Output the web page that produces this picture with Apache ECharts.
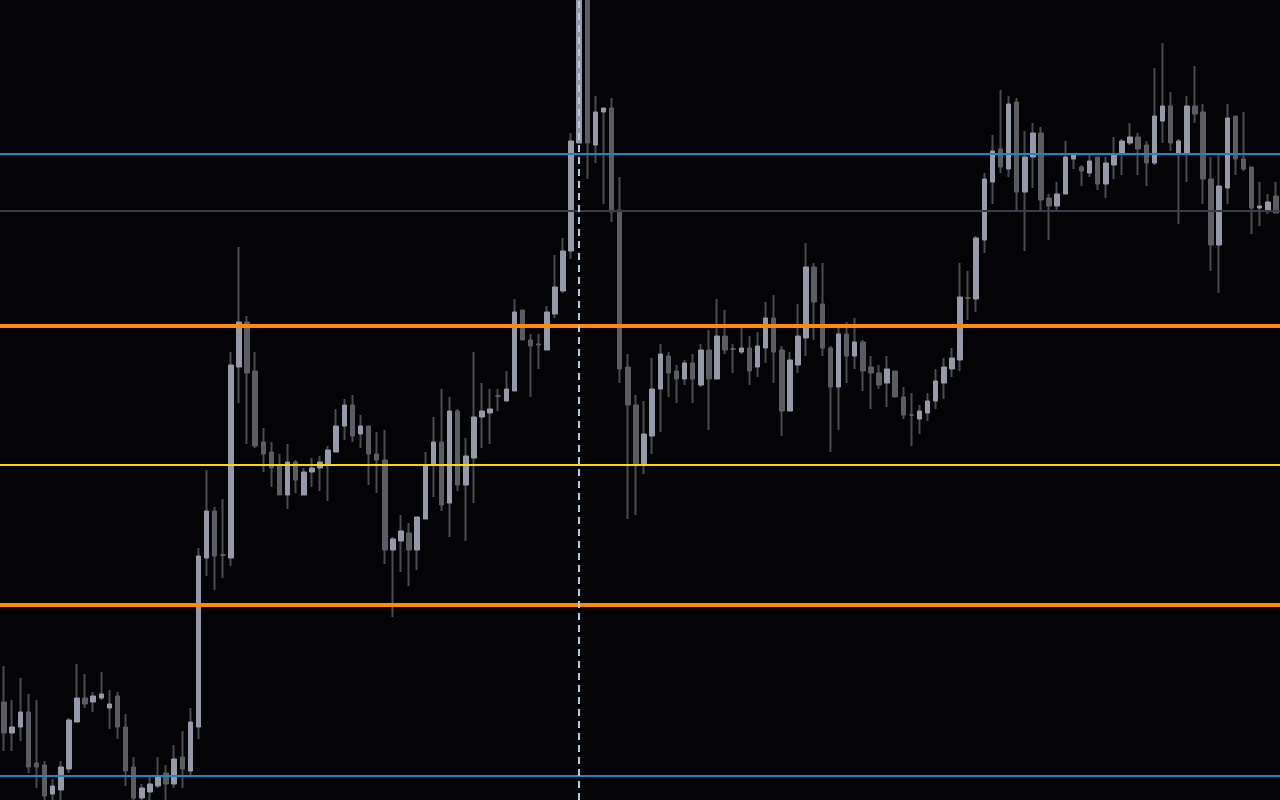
<!DOCTYPE html>
<html>
<head>
<meta charset="utf-8">
<script src="https://cdn.jsdelivr.net/npm/echarts@6/dist/echarts.min.js"></script>
<style>
html,body{margin:0;padding:0;background:#040406;}
#chart{width:1280px;height:800px;}
</style>
</head>
<body>
<div id="chart"></div>
<script>
// ---- data ----
const opens = [2298,2267,2273,2288,2237,2235,2206,2210,2231,2278, 2302,2298,2302,2292,2304,2273,2233,2202,2208,2214, 2227,2216,2243,2229,2273,2442,2489,2445,2442,2633, 2678,2629,2558,2548,2534,2505,2538,2505,2528,2532, 2536,2548,2574,2595,2566,2574,2546,2540,2450,2459, 2467,2450,2481,2535,2558,2497,2589,2515,2542,2583, 2587,2604,2599,2609,2690,2660,2656,2650,2686,2709, 2749,2857,3004,2855,2888,2892,2790,2633,2595,2536, 2564,2611,2644,2629,2621,2637,2615,2650,2621,2664, 2651,2648,2652,2633,2652,2682,2650,2589,2635,2662, 2733,2696,2652,2613,2666,2644,2658,2633,2627,2617, 2629,2603,2585,2581,2587,2599,2617,2631,2640,2702, 2701,2760,2818,2851,2831,2898,2808,2843,2867,2802, 2794,2806,2841,2833,2827,2843,2816,2835,2847,2857, 2863,2855,2837,2879,2894,2847,2847,2894,2888,2821, 2755,2812,2884,2841,2833,2792,2790,2804];
const closes = [2267,2273,2288,2233,2233,2204,2214,2233,2280,2302, 2296,2304,2306,2296,2273,2229,2202,2212,2216,2223, 2216,2241,2231,2278,2444,2489,2444,2445,2635,2678, 2627,2554,2546,2532,2505,2538,2520,2528,2532,2538, 2550,2574,2595,2564,2574,2546,2540,2450,2461,2469, 2450,2483,2535,2558,2495,2589,2515,2544,2583,2589, 2591,2604,2611,2688,2660,2654,2655,2688,2713,2749, 2859,3004,2857,2888,2892,2788,2631,2595,2535,2566, 2611,2646,2627,2621,2637,2621,2650,2621,2664,2650, 2651,2652,2629,2654,2682,2648,2589,2640,2664,2733, 2698,2652,2613,2666,2644,2658,2629,2627,2615,2631, 2603,2585,2585,2589,2599,2619,2633,2642,2703,2702, 2762,2821,2849,2833,2896,2808,2843,2867,2800,2794, 2806,2843,2845,2829,2839,2816,2837,2845,2859,2863, 2851,2837,2884,2894,2857,2859,2894,2886,2821,2755, 2814,2882,2841,2831,2792,2794,2798,2787];
const lows = [2249,2249,2259,2227,2212,2196,2196,2196,2227,2278, 2292,2288,2300,2271,2261,2214,2196,2196,2196,2212, 2196,2212,2212,2224,2261,2424,2410,2422,2434,2597, 2556,2552,2528,2513,2505,2491,2507,2505,2513,2509, 2499,2548,2560,2558,2552,2515,2507,2436,2383,2428, 2414,2430,2481,2503,2489,2463,2509,2459,2497,2552, 2556,2589,2599,2609,2660,2603,2631,2650,2682,2707, 2741,2857,2821,2837,2796,2778,2617,2481,2485,2526, 2546,2568,2603,2597,2615,2597,2613,2570,2621,2646, 2627,2646,2615,2623,2637,2617,2564,2589,2627,2644, 2660,2644,2548,2570,2617,2631,2609,2591,2611,2593, 2603,2581,2554,2566,2579,2591,2601,2623,2629,2680, 2688,2747,2796,2827,2823,2789,2749,2812,2789,2760, 2790,2806,2831,2814,2823,2810,2802,2821,2825,2855, 2825,2814,2835,2857,2849,2776,2818,2877,2796,2729, 2707,2796,2825,2829,2766,2774,2786,2787];
const highs = [2334,2300,2322,2306,2300,2239,2221,2239,2282,2336, 2326,2308,2328,2310,2308,2286,2243,2216,2223,2243, 2235,2255,2269,2292,2452,2530,2493,2501,2648,2753, 2684,2648,2572,2558,2546,2556,2540,2532,2542,2544, 2554,2591,2601,2605,2585,2574,2568,2570,2463,2485, 2477,2483,2548,2583,2611,2603,2591,2562,2648,2617, 2611,2611,2629,2701,2690,2666,2666,2694,2745,2762, 2867,3020,3020,2904,2892,2902,2823,2646,2605,2599, 2642,2656,2648,2635,2640,2646,2656,2670,2701,2690, 2656,2672,2664,2668,2698,2705,2654,2648,2696,2757, 2737,2737,2654,2672,2678,2682,2660,2644,2635,2644, 2629,2613,2607,2595,2607,2631,2642,2652,2737,2729, 2764,2827,2865,2910,2904,2902,2869,2877,2873,2806, 2818,2859,2847,2835,2845,2843,2843,2863,2861,2877, 2867,2859,2932,2957,2908,2861,2904,2934,2896,2843, 2845,2896,2884,2888,2833,2818,2806,2818];
const categories = opens.map((_, i) => 'Bar ' + (i + 1));
const blueLevels = [2846, 2224];
const grayLevels = [2789];
const orangeLevels = [2674, 2395.5];
const yellowLevels = [2535];
const markerIndex = 71;

// ---- build ----
const wickData = opens.map((o, i) => [o, closes[i], lows[i], highs[i]]);
const bodyData = opens.map((o, i) => [o, closes[i], Math.min(o, closes[i]), Math.max(o, closes[i])]);

const UP = '#9699a7', DOWN = '#5c5d62', WICK = '#4a4a4f';
function hl(vals, color, width) {
  return vals.map(v => ({ yAxis: v, lineStyle: { color: color, width: width, type: 'solid' } }));
}

const chart = echarts.init(document.getElementById('chart'), null, { renderer: 'canvas' });
chart.setOption({
  backgroundColor: '#040406',
  animation: false,
  grid: { left: -2, right: -2, top: 0, bottom: 0, containLabel: false },
  xAxis: { type: 'category', data: categories, show: false, boundaryGap: true },
  yAxis: { type: 'value', min: 2200, max: 3000, show: false, splitLine: { show: false }, scale: true },
  series: [
    {
      type: 'candlestick', data: wickData, barWidth: 1, clip: true, silent: true,
      itemStyle: { color: WICK, color0: WICK, borderColor: WICK, borderColor0: WICK, borderColorDoji: WICK, borderWidth: 2 }
    },
    {
      type: 'candlestick', data: bodyData, barWidth: 5, clip: true, silent: true,
      itemStyle: { color: UP, color0: DOWN, borderColor: UP, borderColor0: DOWN, borderColorDoji: '#6e6f75', borderWidth: 1 }
    },
    {
      type: 'line', data: [], z: 10, silent: true,
      markLine: {
        silent: true, symbol: ['none', 'none'], label: { show: false }, animation: false,
        data: [].concat(
          hl(grayLevels, '#3a3a48', 2),
          hl(blueLevels, '#1a88c4', 2),
          hl(yellowLevels, '#ffd700', 2),
          hl(orangeLevels, '#ff8c00', 4),
          [{ xAxis: categories[markerIndex], lineStyle: { color: '#b0cce8', width: 2, type: [7, 5] } }]
        )
      }
    }
  ]
});
</script>
</body>
</html>
